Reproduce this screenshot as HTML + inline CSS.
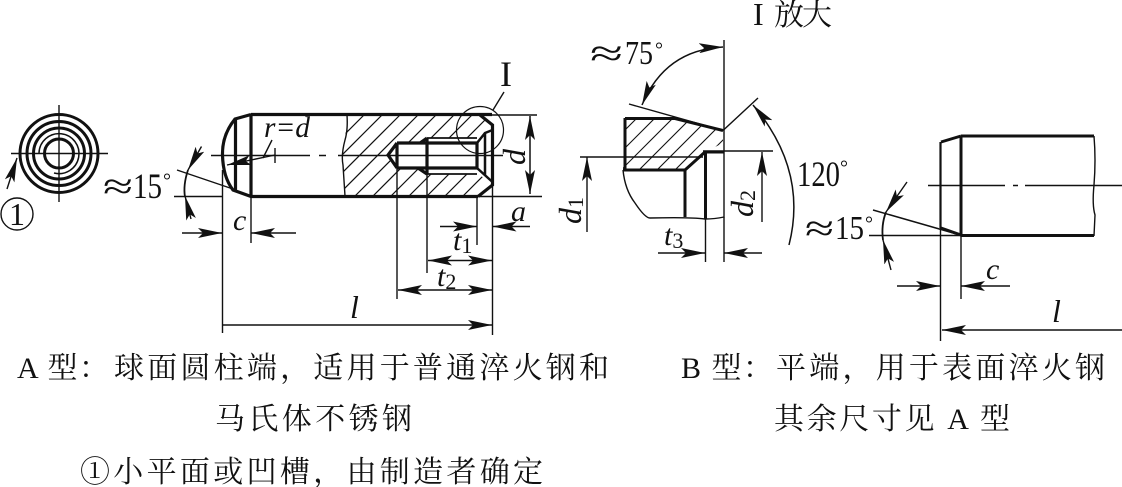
<!DOCTYPE html>
<html><head><meta charset="utf-8">
<style>
html,body{margin:0;padding:0;background:#fff;width:1122px;height:487px;overflow:hidden}
svg{display:block}
text{fill:#111;font-family:"Liberation Serif","Noto Serif CJK SC",serif}
.i{font-style:italic}
.cn{font-family:"Liberation Serif","Noto Serif CJK SC",serif;font-size:30px}
</style></head><body>
<svg width="1122" height="487" viewBox="0 0 1122 487" xmlns="http://www.w3.org/2000/svg">
<defs>
<marker id="a" viewBox="0 0 24 10" refX="24" refY="5" markerWidth="24" markerHeight="10" markerUnits="userSpaceOnUse" orient="auto-start-reverse"><path d="M0 0L24 5L0 10L5 5Z" fill="#111"/></marker>
<clipPath id="h1"><path d="M347 115L480 115L492 125V130L477 138H427L420 143H397L388 155L397 168H418L427 174H477L492 182V185L478 196H345L342 155L345 140Z"/></clipPath>
<clipPath id="h2"><path d="M625 118H675L723 130.500V143L705 152L685 170H623Z"/></clipPath>
</defs>
<g fill="none" stroke="#111" stroke-width="1.400">
<!-- end view -->
<g stroke-width="3">
<circle cx="59" cy="153.500" r="39"/><circle cx="59" cy="153.500" r="32"/><circle cx="59" cy="153.500" r="25.500"/><circle cx="59" cy="153.500" r="14.500"/>
</g>
<path d="M39 153A20 20 0 1 1 54 173" stroke-width="1.500"/>
<path d="M11 153.500H108M59 105V202"/>
<path d="M7 189L17 158" marker-end="url(#a)"/>
<circle cx="17" cy="214" r="16"/>
<!-- A pin -->
<g stroke-width="3.200">
<path d="M251 114.500H492M251 196.500H478M251 114V197"/>
<path d="M251 114.500L235 119Q222 135 222.500 155Q223 177 233 190L251 196.500M235.500 119V190"/>
<path d="M480 115L492.500 125V185L478 196.500M397 143H477V168H397M397 143V168M397 143L388 155L397 168M427 138V174M427 138L420 143M418 168L427 174"/>
<path d="M477 143L485 133L492.500 130M477 168L492.500 182M485 133V175" stroke-width="2.500"/>
</g>
<path d="M427 138H477M427 174H477" stroke-width="1.800"/>
<path d="M347 115Q348 130 345 140Q341 155 343 165L345 196"/>
<g clip-path="url(#h1)" stroke-width="1.200">
<path d="M283 196L364 115M301 196L382 115M319 196L400 115M337 196L418 115M355 196L436 115M373 196L454 115M391 196L472 115M409 196L490 115M427 196L508 115M445 196L526 115M463 196L544 115M481 196L562 115"/>
</g>
<path d="M211 155.500H310M319 155.500H326M338 155.500H503"/>
<circle cx="480" cy="130" r="23.500" stroke-width="1.200"/>
<path d="M493 110L504 92"/>
<!-- A dims -->
<path d="M222.500 170V333M251 196V243M397 168V299M427 174V273M477 196V245M492.500 185V335"/>
<path d="M474 115H537M478 196.500H542"/>
<path d="M530 116V194" marker-start="url(#a)" marker-end="url(#a)" stroke-width="1.500"/>
<path d="M182 233H222" marker-end="url(#a)"/><path d="M296 233H251" marker-end="url(#a)"/>
<path d="M174 196.500H222"/>
<path d="M440 226.500H477" marker-end="url(#a)"/><path d="M530 226.500H492.500" marker-end="url(#a)"/>
<path d="M428 260.500H492" marker-start="url(#a)" marker-end="url(#a)"/>
<path d="M398 290H492" marker-start="url(#a)" marker-end="url(#a)"/>
<path d="M222 325H492" marker-end="url(#a)"/>
<path d="M177 170L233 189"/>
<path d="M201.500 146.500L188 170" marker-end="url(#a)"/>
<path d="M188 170Q183 185 185 197" stroke-width="1.800"/>
<path d="M191 219L185 196" marker-end="url(#a)"/>
<path d="M275 155L227 165" marker-end="url(#a)"/>
<path d="M272 140L263 158M275 148V163"/>
<!-- detail I -->
<g stroke-width="3">
<path d="M625 118.500H675L723 130.500M623 170H685V217M685 170L705 152H724M705.500 152V219M625 118V170"/>
</g>
<path d="M623 170Q625 190 635 203Q645 218 650 218Q690 217 705 219Q715 219 724 217V40"/>
<path d="M629 104L723 130.500M723 130.500L758 98M580 157H703M703 151H773"/>
<g clip-path="url(#h2)" stroke-width="1.100">
<path d="M565 172L622 115M583 172L640 115M601 172L658 115M619 172L676 115M637 172L694 115M655 172L712 115M673 172L730 115M691 172L748 115M709 172L766 115"/>
</g>
<path d="M723 47Q665 50 642 105" marker-start="url(#a)" marker-end="url(#a)" stroke-width="1.500"/>
<path d="M789 245Q808 170 753 105" marker-end="url(#a)" stroke-width="1.500"/>
<path d="M587 232V157" marker-end="url(#a)"/>
<path d="M762 222V152" marker-end="url(#a)"/>
<path d="M658 253H705" marker-end="url(#a)"/><path d="M762 253H724" marker-end="url(#a)"/>
<path d="M705.500 217V262M724 217V262"/>
<!-- B pin -->
<g stroke-width="3">
<path d="M961 136H1094M961 235.500H1094M961 136V235M941 142L961 136"/>
</g>
<path d="M940.500 142V341M961 235V299M928 185.500H1005M1013 185.500H1018M1025 185.500H1122"/>
<path d="M940.500 142V228" stroke-width="2.200"/>
<path d="M1094 136Q1096 160 1094 185Q1092 205 1095 215L1094 236"/>
<path d="M873 210L962 235.500" stroke-width="1.500"/>
<path d="M941 228L961 235" stroke-width="3"/>
<path d="M869 235.500H961"/>
<path d="M907 182L886 212" marker-end="url(#a)"/>
<path d="M886 212Q881 225 883 240" stroke-width="1.800"/>
<path d="M891 270L883 240" marker-end="url(#a)"/>
<path d="M897 286H940" marker-end="url(#a)"/><path d="M1010 286H961" marker-end="url(#a)"/>
<path d="M1122 330H942" marker-end="url(#a)"/>
</g>
<!-- labels -->
<text x="17" y="225" font-size="32" text-anchor="middle">1</text>
<text x="103" y="199" font-size="38" textLength="30" lengthAdjust="spacingAndGlyphs">≈</text><text x="133" y="198" font-size="36" textLength="29" lengthAdjust="spacingAndGlyphs">15</text><text x="163" y="187" font-size="20">°</text>
<text x="264" y="137" font-size="30" class="i" textLength="46" lengthAdjust="spacingAndGlyphs">r=d</text>
<text x="233" y="230" font-size="30" class="i">c</text>
<text x="500" y="86" font-size="36">I</text>
<text x="511" y="221" font-size="30" class="i">a</text>
<text x="453" y="250" font-size="30" class="i">t<tspan font-size="22" font-style="normal" dy="3">1</tspan></text>
<text x="437" y="286" font-size="30" class="i">t<tspan font-size="22" font-style="normal" dy="3">2</tspan></text>
<text x="350" y="318" font-size="32" class="i">l</text>
<text transform="translate(525 165) rotate(-90)" font-size="32" class="i">d</text>
<text transform="translate(581 224) rotate(-90)" font-size="32" class="i">d<tspan font-size="22" font-style="normal" dy="2">1</tspan></text>
<text transform="translate(753 217) rotate(-90)" font-size="32" class="i">d<tspan font-size="22" font-style="normal" dy="2">2</tspan></text>
<text x="590" y="66" font-size="38" textLength="33" lengthAdjust="spacingAndGlyphs">≈</text><text x="625" y="64" font-size="34" textLength="28" lengthAdjust="spacingAndGlyphs">75</text><text x="655" y="56" font-size="20">°</text>
<text x="797" y="186" font-size="36" textLength="43" lengthAdjust="spacingAndGlyphs">120</text><text x="840" y="174" font-size="20">°</text>
<text x="664" y="245" font-size="30" class="i">t<tspan font-size="22" font-style="normal" dy="3">3</tspan></text>
<text x="805" y="241" font-size="38" textLength="29" lengthAdjust="spacingAndGlyphs">≈</text><text x="835" y="239" font-size="34" textLength="29" lengthAdjust="spacingAndGlyphs">15</text><text x="865" y="230" font-size="20">°</text>
<text x="986" y="279" font-size="30" class="i">c</text>
<text x="1052" y="322" font-size="32" class="i">l</text>
<text x="753" y="25" font-size="32">I</text><text x="774" y="25" class="cn" textLength="58">放大</text>
<text x="17" y="378" class="cn" textLength="92">A 型：</text><text x="114" y="378" class="cn" textLength="495">球面圆柱端，适用于普通淬火钢和</text>
<text x="215" y="429" class="cn" textLength="197">马氏体不锈钢</text>
<text x="80" y="482" class="cn" textLength="463">①小平面或凹槽，由制造者确定</text>
<text x="681" y="378" class="cn" textLength="92">B 型：</text><text x="776" y="378" class="cn" textLength="329">平端，用于表面淬火钢</text>
<text x="774" y="429" class="cn" textLength="236">其余尺寸见 A 型</text>
</svg>
</body></html>
